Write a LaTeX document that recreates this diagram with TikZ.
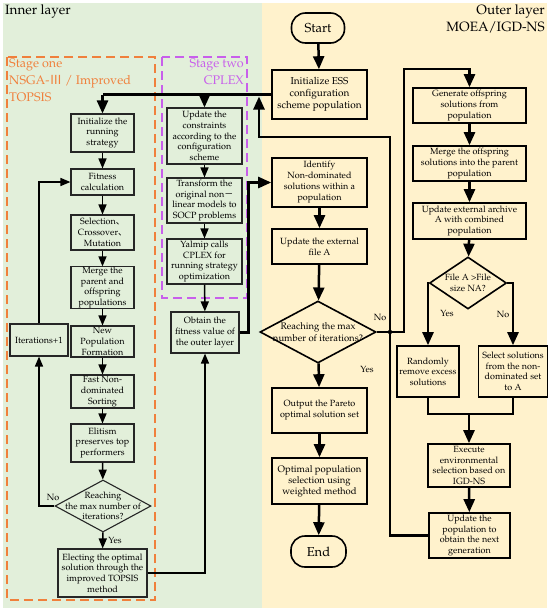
\documentclass[tikz,border=0pt]{standalone}
\usepackage[T1]{fontenc}
\usepackage{fontspec}
\newfontfamily\cjk{Noto Sans CJK SC}
\newcommand\pal{\fontencoding{T1}\fontfamily{ppl}\selectfont}
\usetikzlibrary{arrows.meta,shapes.geometric}
\definecolor{gbg}{RGB}{226,239,218}
\definecolor{ybg}{RGB}{255,242,204}
\definecolor{stone}{RGB}{240,128,60}
\definecolor{sttwo}{RGB}{200,95,235}
\begin{document}
\begin{tikzpicture}[x=1pt,y=-1pt,
 ibox/.style={draw=black!85,line width=1.1pt,fill=gbg,align=center,inner sep=0pt,font=\pal\fontsize{9}{10.7}\selectfont},
 obox/.style={draw=black,line width=1.6pt,fill=ybg,align=center,inner sep=0pt,font=\pal\fontsize{10}{12.2}\selectfont},
 sz/.style 2 args={minimum width=#1pt,minimum height=#2pt},
 idia/.style={diamond,draw=black!85,line width=1.1pt,fill=gbg,inner sep=0pt},
 odia/.style={diamond,draw=black,line width=1.6pt,fill=ybg,inner sep=0pt},
 itxt/.style={align=center,inner sep=0pt,font=\pal\fontsize{9}{10.7}\selectfont},
 otxt/.style={align=center,inner sep=0pt,font=\pal\fontsize{9.5}{12.5}\selectfont},
 stadium/.style={draw=black,line width=1.6pt,fill=ybg,rounded corners=14pt,inner sep=0pt,font=\pal\fontsize{13}{15}\selectfont},
 iarr/.style={line width=1.5pt,-{Triangle[length=10pt,width=8pt]}},
 oarr/.style={line width=2.5pt,-{Triangle[length=13pt,width=11pt]}},
 iline/.style={line width=1.5pt},
 oline/.style={line width=2.5pt},
 lab/.style={font=\pal\fontsize{9}{10}\selectfont,inner sep=0pt}
]
\useasboundingbox (0,0) rectangle (550,611);
\fill[gbg] (3,3) rectangle (262,608);
\fill[ybg] (262,3) rectangle (547,608);
\node[anchor=north west,inner sep=0pt,font=\pal\fontsize{13.5}{16}\selectfont] (innerlab) at (5,5) {Inner layer};
\node[anchor=north east,inner sep=0pt,align=right,font=\pal\fontsize{13.5}{16.5}\selectfont] (outerlab) at (545,5) {Outer layer\\MOEA/IGD-NS};
% stage frames
\draw[stone,line width=1.6pt,dash pattern=on 9pt off 5pt] (7,57) rectangle (155,600);
\draw[sttwo,line width=1.6pt,dash pattern=on 9pt off 5pt] (162,57) rectangle (247,298);
\node[anchor=north west,inner sep=0pt,align=left,text=stone,font=\pal\fontsize{12.5}{17}\selectfont] (s1lab) at (9,59) {Stage one\\NSGA-{\cjk Ⅲ} / Improved\\TOPSIS};
\node[anchor=north east,inner sep=0pt,align=right,text=sttwo,font=\pal\fontsize{12.5}{17}\selectfont] (s2lab) at (244,59) {Stage two\\CPLEX};
% inner nodes
\node[ibox,sz={63}{38}] (ir) at (102.5,133) {Initialize the\\running\\strategy};
\node[ibox,sz={63}{26}] (fit) at (102.5,182) {Fitness\\calculation};
\node[ibox,sz={63}{35}] (sel) at (102.5,232.5) {Selection{\cjk 、}\\Crossover{\cjk 、}\\Mutation};
\node[ibox,sz={63}{41}] (mrg) at (102.5,287.5) {Merge the\\parent and\\offspring\\populations};
\node[ibox,sz={63}{31}] (npf) at (102.5,341.5) {New\\Population\\Formation};
\node[ibox,sz={63}{33}] (fns) at (102.5,391.5) {Fast Non-\\dominated\\Sorting};
\node[ibox,sz={63}{38}] (eli) at (102.5,443) {Elitism\\preserves top\\performers};
\node[idia,minimum width=96pt,minimum height=52pt] (d1) at (103,506) {};
\node[itxt] (d1t) at (d1.center) {Reaching\\the max number of\\iterations?};
\node[ibox,sz={89}{48}] (ele) at (102.5,573) {Electing the optimal\\solution through the\\improved TOPSIS\\method};
\node[ibox,sz={58}{32}] (itp) at (39,340) {Iterations+1};
\node[ibox,sz={75}{56}] (upc) at (204.5,136) {Update the\\constraints\\according to the\\configuration\\scheme};
\node[ibox,sz={75}{45}] (tra) at (204.5,200.5) {Transform the\\original non{\cjk －}\\linear models to\\SOCP problems};
\node[ibox,sz={75}{45}] (yal) at (204.5,261.5) {Yalmip calls\\CPLEX for\\running strategy\\optimization};
\node[ibox,sz={68}{41}] (obt) at (205,332.5) {Obtain the\\fitness value of\\the outer layer};
% outer left
\node[stadium,minimum width=53pt,minimum height=30pt] (start) at (318,28) {Start};
\node[obox,sz={95}{49}] (ies) at (319.5,94.5) {Initialize ESS\\configuration\\scheme population};
\node[obox,sz={95}{49},font=\pal\fontsize{9}{11}\selectfont] (idn) at (319.5,182.5) {Identify\\Non-dominated\\solutions within a\\population};
\node[obox,sz={95}{35},font=\pal\fontsize{9}{11}\selectfont] (uef) at (319.5,246.5) {Update the external\\file A};
\node[odia,minimum width=116pt,minimum height=62pt] (d2) at (318,332) {};
\node[otxt] (d2t) at (d2.center) {Reaching the max\\number of iterations?};
\node[obox,sz={95}{45},font=\pal\fontsize{9}{11}\selectfont] (opt) at (319.5,410.5) {Output the Pareto\\optimal solution set};
\node[obox,sz={95}{46},font=\pal\fontsize{9.5}{11}\selectfont] (ops) at (319.5,481) {Optimal population\\selection using\\weighted method};
\node[stadium,minimum width=55pt,minimum height=31pt] (endn) at (318.5,551.5) {End};
% outer right
\node[obox,sz={113}{35},font=\pal\fontsize{9}{10.8}\selectfont] (gen) at (469.5,105.5) {Generate offspring\\solutions from\\population};
\node[obox,sz={113}{35},font=\pal\fontsize{9}{10.8}\selectfont] (mos) at (469.5,163.5) {Merge the offspring\\solutions into the parent\\population};
\node[obox,sz={113}{36},font=\pal\fontsize{9}{10.8}\selectfont] (uea) at (469.5,221) {Update external archive\\A with combined\\population};
\node[odia,minimum width=77pt,minimum height=52pt] (d3) at (468,283) {};
\node[itxt] (d3t) at (d3.center) {File A >File\\size NA?};
\node[obox,sz={62}{51},font=\pal\fontsize{9}{10.5}\selectfont] (rnd) at (428,371.5) {Randomly\\remove excess\\solutions};
\node[obox,sz={69}{51},font=\pal\fontsize{9}{10.5}\selectfont] (sls) at (513,371.5) {Select solutions\\from the non-\\dominated set\\to A};
\node[obox,sz={82}{43},font=\pal\fontsize{9}{10.5}\selectfont] (exe) at (469,465.5) {Execute\\environmental\\selection based on\\IGD-NS};
\node[obox,sz={81}{45},font=\pal\fontsize{9}{10.5}\selectfont] (upp) at (469.5,535.5) {Update the\\population to\\obtain the next\\generation};
% coordinates
\coordinate (topL) at (ir.north |- ies.west);
\coordinate (topC) at (upc.north |- ies.west);
\coordinate (loopA) at (390,137);
\coordinate (loopB) at (259,96.5);
\coordinate (noA) at (404,69);
\coordinate (joinR) at (469,414);
\coordinate (dotp) at (390,332);
% inner arrows
\draw[iarr] (ir) -- (fit);
\draw[iarr] (fit) -- (sel);
\draw[iarr] (sel) -- (mrg);
\draw[iarr] (mrg) -- (npf);
\draw[iarr] (npf) -- (fns);
\draw[iarr] (fns) -- (eli);
\draw[iarr] (eli) -- (d1);
\draw[iarr] (d1) -- (ele);
\draw[iarr] (d1.west) -| (itp.south);
\draw[iarr] (itp.north) |- (fit.west);
\draw[iarr] (upc) -- (tra);
\draw[iarr] (tra) -- (yal);
\draw[iarr] (yal) -- (obt);
\draw[iarr] (ele.east) -| (obt.south);
\node[lab] (no1) at (53,497) {No};
\node[lab] (yes1) at (115,540) {Yes};
% outer arrows
\draw[oarr] (start) -- (ies);
\draw[oline] (ies.west) -- (topL);
\draw[oarr] (topL) -- (ir.north);
\draw[oarr] (topC) -- (upc.north);
\draw[oarr] (obt.east) -- ++(9,0) |- (idn.west);
\draw[oarr] (idn) -- (uef);
\draw[oarr] (uef) -- (d2);
\draw[oarr] (d2) -- (opt);
\draw[oarr] (opt) -- (ops);
\draw[oarr] (ops) -- (endn);
\draw[oarr] (d2.east) -| (noA) -| (gen.north);
\draw[oarr] (upp.west) -| (loopA) -| (loopB);
\fill (dotp) circle (2.2pt);
\draw[oarr] (gen) -- (mos);
\draw[oarr] (mos) -- (uea);
\draw[oarr] (uea) -- (d3);
\draw[oarr] (d3.west) -| (rnd.north);
\draw[oarr] (d3.east) -| (sls.north);
\draw[oline] (rnd.south) |- (joinR) -| (sls.south);
\draw[oarr] (joinR) -- (exe.north);
\draw[oarr] (exe) -- (upp);
\node[lab] (no2) at (380,317) {No};
\node[lab] (yes2) at (367,369) {Yes};
\node[lab] (yes3) at (447,313) {Yes};
\node[lab] (no3) at (503,314) {No};
\end{tikzpicture}
\end{document}
